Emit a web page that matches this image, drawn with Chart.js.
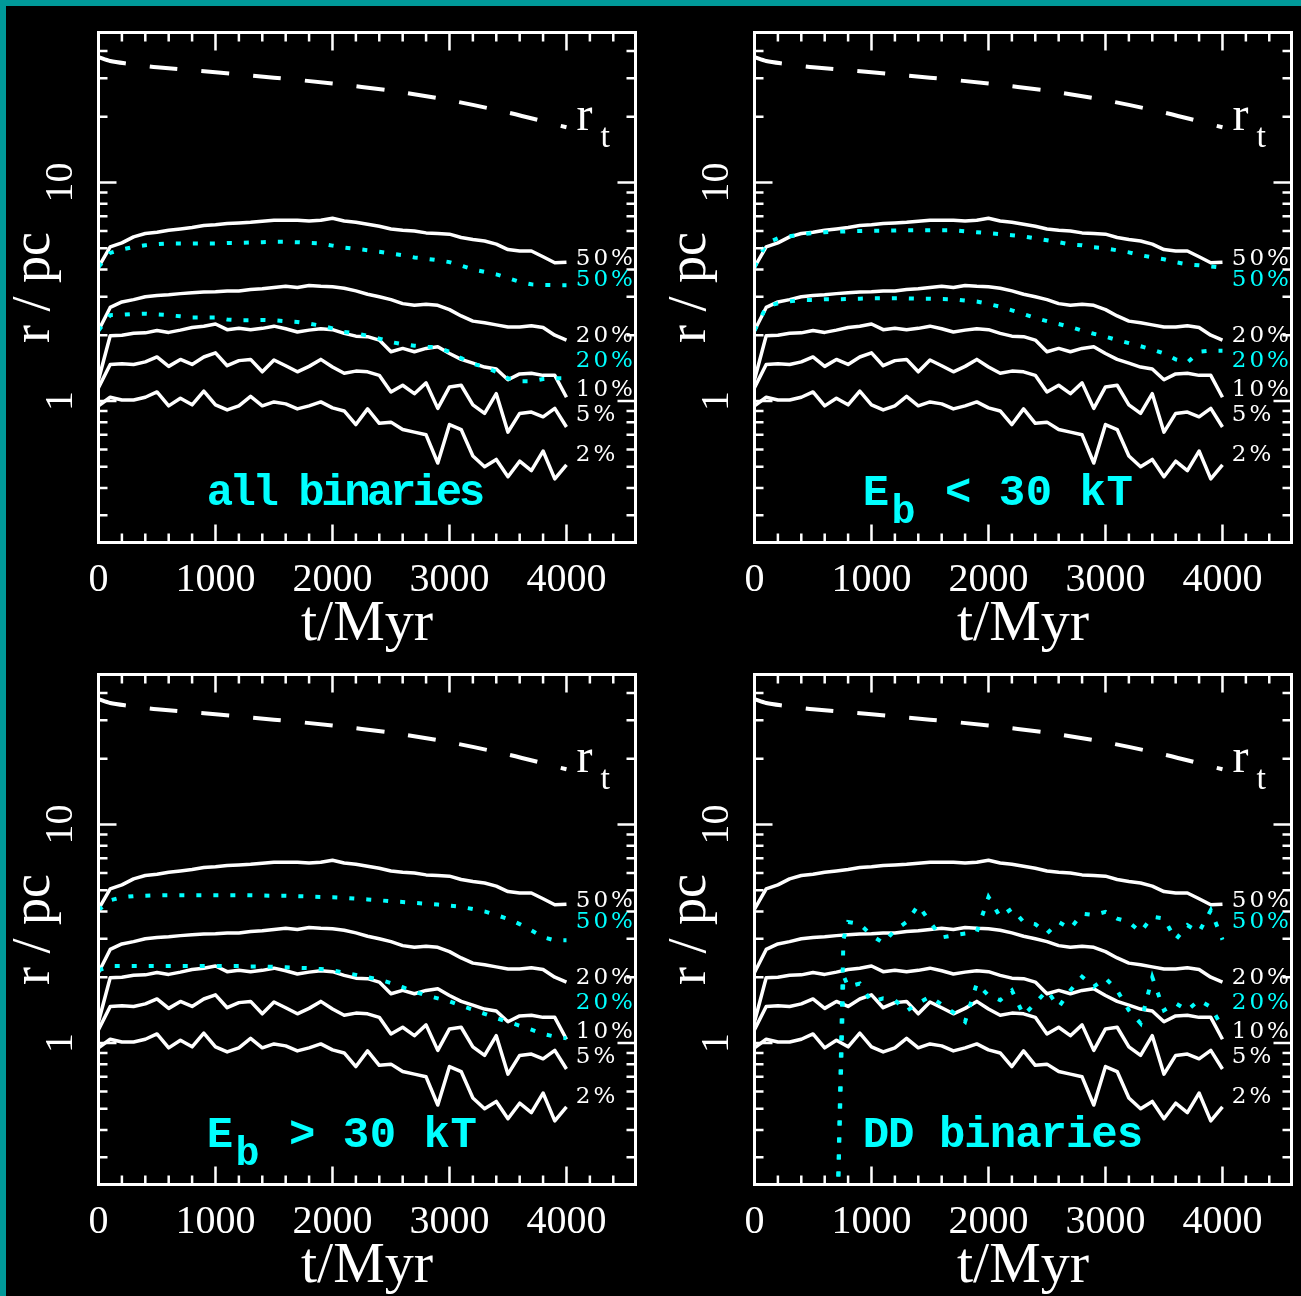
<!DOCTYPE html>
<html>
<head>
<meta charset="utf-8">
<script src="https://cdn.jsdelivr.net/npm/chart.js@4.4.1/dist/chart.umd.min.js"></script>
<style>
html, body { margin: 0; padding: 0; }
body { width: 1301px; height: 1296px; background: #009999; overflow: hidden; position: relative; }
#bg { position: absolute; left: 6px; top: 6px; right: 0; bottom: 0; background: #000; }
canvas { position: absolute; }
</style>
</head>
<body>
<div id="bg"></div>
<canvas id="p_all" width="656" height="660" style="left:0px;top:0px"></canvas>
<canvas id="p_soft" width="656" height="660" style="left:656px;top:0px"></canvas>
<canvas id="p_hard" width="656" height="660" style="left:0px;top:642px"></canvas>
<canvas id="p_dd" width="656" height="660" style="left:656px;top:642px"></canvas>
<script>
// time grid (Myr) for the lagrangian radii
var tGrid = [0, 100, 200, 300, 400, 500, 600, 700, 800, 900, 1000, 1100, 1200, 1300, 1400, 1500, 1600, 1700, 1800, 1900, 2000,
    2100, 2200, 2300, 2400, 2500, 2600, 2700, 2800, 2900, 3000, 3100, 3200, 3300, 3400, 3500, 3600, 3700, 3800, 3900, 4000];

// tidal radius
var tTidal = [0, 100, 250, 500, 1000, 1500, 2000, 2500, 3000, 3500, 4000];
var rTidal = [37.5, 36.0, 35.0, 33.7, 32.0, 30.2, 28.4, 26.3, 23.8, 20.9, 17.9];

// all stars (white, same in every panel)
var r50 = [4.1, 5.07, 5.29, 5.64, 5.84, 5.92, 6.05, 6.13, 6.22, 6.35, 6.40, 6.49, 6.53, 6.58, 6.65, 6.72, 6.72, 6.72, 6.67, 6.72, 6.86,
    6.67, 6.58, 6.44, 6.31, 6.13, 6.05, 6.00, 5.88, 5.84, 5.80, 5.60, 5.48, 5.40, 5.22, 4.93, 4.86, 4.86, 4.57, 4.29, 4.32];
var r20 = [2.1, 2.68, 2.84, 2.91, 3.00, 3.04, 3.06, 3.10, 3.13, 3.15, 3.16, 3.19, 3.19, 3.24, 3.26, 3.31, 3.35, 3.31, 3.38, 3.35, 3.33,
    3.28, 3.19, 3.08, 3.00, 2.91, 2.79, 2.74, 2.77, 2.74, 2.62, 2.45, 2.32, 2.28, 2.23, 2.18, 2.18, 2.21, 2.17, 2.00, 1.90];
var r10 = [1.25, 1.99, 2.0, 2.04, 2.05, 2.10, 2.06, 2.11, 2.17, 2.20, 2.25, 2.12, 2.15, 2.12, 2.15, 2.20, 2.14, 2.07, 2.11, 2.14, 2.12,
    2.04, 1.98, 1.97, 1.90, 1.68, 1.74, 1.68, 1.74, 1.77, 1.65, 1.55, 1.49, 1.43, 1.40, 1.25, 1.33, 1.34, 1.31, 1.31, 1.04];
var r05 = [1.15, 1.47, 1.48, 1.47, 1.51, 1.59, 1.44, 1.55, 1.47, 1.59, 1.66, 1.45, 1.53, 1.55, 1.36, 1.54, 1.45, 1.36, 1.44, 1.55, 1.43,
    1.34, 1.37, 1.36, 1.31, 1.10, 1.18, 1.08, 1.21, 0.925, 1.16, 1.18, 0.96, 0.877, 1.08, 0.72, 0.877, 0.89, 0.846, 0.925, 0.76];
var r02 = [0.95, 1.04, 1.01, 1.01, 1.04, 1.10, 0.95, 1.03, 0.96, 1.11, 0.96, 0.91, 0.95, 1.05, 0.95, 0.99, 0.97, 0.92, 0.95, 0.99, 0.93,
    0.90, 0.78, 0.92, 0.79, 0.80, 0.74, 0.72, 0.70, 0.52, 0.78, 0.74, 0.56, 0.50, 0.54, 0.45, 0.53, 0.48, 0.59, 0.44, 0.51];

// binaries (cyan)
var allB50 = [4.1, 4.76, 4.94, 5.07, 5.16, 5.22, 5.26, 5.26, 5.26, 5.26, 5.26, 5.29, 5.29, 5.31, 5.33, 5.35, 5.35, 5.33, 5.29, 5.26, 5.14,
    5.04, 4.97, 4.90, 4.82, 4.73, 4.65, 4.54, 4.48, 4.41, 4.32, 4.17, 4.00, 3.90, 3.80, 3.65, 3.51, 3.42, 3.40, 3.39, 3.39];
var allB20 = [2.1, 2.47, 2.48, 2.50, 2.51, 2.49, 2.47, 2.44, 2.41, 2.41, 2.41, 2.36, 2.34, 2.34, 2.35, 2.34, 2.32, 2.30, 2.26, 2.21, 2.15,
    2.07, 2.04, 1.99, 1.93, 1.86, 1.82, 1.79, 1.77, 1.76, 1.68, 1.57, 1.48, 1.43, 1.36, 1.27, 1.23, 1.23, 1.26, 1.27, 1.27];
var softB50 = [4.1, 5.27, 5.55, 5.67, 5.80, 5.86, 5.92, 5.95, 5.98, 6.0, 6.02, 6.02, 6.03, 6.05, 6.05, 6.05, 6.05, 6.05, 5.98, 5.92, 5.86,
    5.80, 5.74, 5.67, 5.55, 5.44, 5.33, 5.21, 5.16, 5.05, 5.0, 4.89, 4.79, 4.65, 4.54, 4.45, 4.32, 4.22, 4.18, 4.13, 4.08];
var softB20 = [2.1, 2.7, 2.8, 2.86, 2.9, 2.9, 2.92, 2.92, 2.93, 2.94, 2.95, 2.95, 2.95, 2.95, 2.94, 2.94, 2.93, 2.92, 2.88, 2.85, 2.78,
    2.7, 2.6, 2.5, 2.4, 2.32, 2.25, 2.18, 2.1, 2.03, 1.97, 1.9, 1.84, 1.78, 1.72, 1.65, 1.55, 1.5, 1.68, 1.7, 1.7];
var hardB50 = [4.05, 4.5, 4.65, 4.7, 4.72, 4.74, 4.75, 4.75, 4.75, 4.75, 4.75, 4.75, 4.75, 4.74, 4.73, 4.72, 4.72, 4.7, 4.68, 4.66, 4.65,
    4.62, 4.58, 4.54, 4.5, 4.45, 4.42, 4.38, 4.34, 4.3, 4.25, 4.2, 4.1, 4.0, 3.85, 3.7, 3.5, 3.28, 3.05, 2.95, 2.95];
var hardB20 = [2.15, 2.25, 2.25, 2.25, 2.25, 2.25, 2.25, 2.25, 2.25, 2.25, 2.25, 2.25, 2.25, 2.24, 2.24, 2.23, 2.22, 2.21, 2.2, 2.18, 2.15,
    2.1, 2.05, 2.0, 1.95, 1.88, 1.8, 1.72, 1.65, 1.6, 1.55, 1.48, 1.42, 1.36, 1.3, 1.25, 1.2, 1.15, 1.1, 1.07, 1.05];

// DD binaries only exist from ~700 Myr (first value is below the axis)
var ddTime = [700, 760, 800, 900, 1000, 1100, 1200, 1300, 1400, 1500, 1600, 1700, 1800, 1900, 2000, 2100, 2200, 2300, 2400,
    2500, 2600, 2700, 2800, 2900, 3000, 3100, 3200, 3300, 3400, 3500, 3600, 3700, 3800, 3900, 4000];
var dd50 = [0.1, 2.97, 3.58, 3.5, 3.11, 2.87, 3.28, 3.58, 4.27, 3.58, 3.04, 3.11, 3.17, 3.22, 4.66, 3.78, 4.12, 3.58, 3.5,
    3.17, 3.58, 3.34, 3.91, 3.85, 3.98, 3.71, 3.58, 3.22, 3.78, 3.71, 2.97, 3.46, 3.22, 4.05, 2.97];
var dd20 = [0.1, 2.04, 1.81, 1.87, 1.54, 1.60, 1.57, 1.40, 1.52, 1.63, 1.50, 1.38, 1.25, 1.87, 1.65, 1.57, 1.74, 1.34, 1.52,
    1.74, 1.46, 1.74, 2.01, 1.81, 1.98, 1.74, 1.41, 1.23, 2.0, 1.41, 1.52, 1.41, 1.57, 1.46, 1.18];

// axis ticks
var xLabelTicks = [0, 1000, 2000, 3000, 4000];
var xMinorTicks = [0, 200, 400, 600, 800, 1000, 1200, 1400, 1600, 1800, 2000, 2200, 2400, 2600, 2800, 3000, 3200, 3400, 3600, 3800, 4000, 4200, 4400];
var yMinorTicks = [0.3, 0.4, 0.5, 0.6, 0.7, 0.8, 0.9, 1, 2, 3, 4, 5, 6, 7, 8, 9, 10, 20, 30, 40];
var yLabelTicks = [1, 10];

// curve labels at the right end: [text, r, colour]
var curveLabels = [
    ['50%', 4.48, '#ffffff'],
    ['50%', 3.59, '#00ffff'],
    ['20%', 1.99, '#ffffff'],
    ['20%', 1.53, '#00ffff'],
    ['10%', 1.125, '#ffffff'],
    ['5%', 0.86, '#ffffff'],
    ['2%', 0.564, '#ffffff']
];

var WHITE = '#ffffff';
var CYAN = '#00ffff';

function pts(xs, ys) {
    return xs.map(function (x, i) { return { x: x, y: ys[i] }; });
}

var framePlugin = {
    id: 'frame',
    afterDraw: function (chart) {
        var ctx = chart.ctx;
        var a = chart.chartArea;
        var xs = chart.scales.x;
        var ys = chart.scales.y;
        var panel = chart.options.plugins.frame;

        ctx.save();
        ctx.strokeStyle = WHITE;
        ctx.lineWidth = 3;
        ctx.strokeRect(a.left, a.top, a.right - a.left, a.bottom - a.top);

        // inward ticks on all four sides
        ctx.lineWidth = 2.5;
        ctx.beginPath();
        xMinorTicks.forEach(function (v) {
            var px = xs.getPixelForValue(v);
            var len = v % 1000 === 0 ? 18 : 9;
            ctx.moveTo(px, a.bottom); ctx.lineTo(px, a.bottom - len);
            ctx.moveTo(px, a.top); ctx.lineTo(px, a.top + len);
        });
        yMinorTicks.forEach(function (v) {
            var py = ys.getPixelForValue(v);
            var len = yLabelTicks.indexOf(v) >= 0 ? 18 : 9;
            ctx.moveTo(a.left, py); ctx.lineTo(a.left + len, py);
            ctx.moveTo(a.right, py); ctx.lineTo(a.right - len, py);
        });
        ctx.stroke();

        // rotated y tick labels
        ctx.fillStyle = WHITE;
        ctx.font = '40px "Liberation Serif"';
        ctx.textAlign = 'center';
        ctx.textBaseline = 'alphabetic';
        yLabelTicks.forEach(function (v) {
            ctx.save();
            ctx.translate(a.left - 26.5, ys.getPixelForValue(v));
            ctx.rotate(-Math.PI / 2);
            ctx.fillText(String(v), 0, 0);
            ctx.restore();
        });

        // percentage labels
        ctx.textAlign = 'left';
        ctx.textBaseline = 'middle';
        ctx.font = '23px "DejaVu Serif"';
        ctx.letterSpacing = '3px';
        curveLabels.forEach(function (l) {
            ctx.fillStyle = l[2];
            ctx.fillText(l[0], xs.getPixelForValue(4080), ys.getPixelForValue(l[1]));
        });
        ctx.letterSpacing = '0px';

        // r_t
        ctx.textBaseline = 'alphabetic';
        ctx.fillStyle = WHITE;
        ctx.font = '48px "Liberation Serif"';
        ctx.fillText('r', xs.getPixelForValue(4085), ys.getPixelForValue(17.4));
        ctx.font = '34px "Liberation Serif"';
        ctx.fillText('t', xs.getPixelForValue(4290), ys.getPixelForValue(14.5));

        // panel name
        ctx.fillStyle = CYAN;
        ctx.font = 'bold 44px "Liberation Mono"';
        ctx.letterSpacing = panel.spacing;
        var x0 = xs.getPixelForValue(925);
        var y0 = ys.getPixelForValue(0.333);
        ctx.fillText(panel.name, x0, y0);
        if (panel.sub) {
            var w = ctx.measureText(panel.name).width;
            ctx.font = 'bold 40px "Liberation Mono"';
            ctx.fillText(panel.sub, x0 + w + 2, y0 + 18);
            var w2 = ctx.measureText(panel.sub).width;
            ctx.font = 'bold 44px "Liberation Mono"';
            ctx.fillText(panel.rest, x0 + w + w2 + 4, y0);
        }
        ctx.restore();
    }
};

function whiteLine(ys) {
    return { data: pts(tGrid, ys), borderColor: WHITE, borderWidth: 3.5, pointRadius: 0, tension: 0, borderJoinStyle: 'round' };
}

function cyanLine(xs, ys) {
    return { data: pts(xs, ys), borderColor: CYAN, borderWidth: 4, borderDash: [5, 12], pointRadius: 0, tension: 0 };
}

function makePanel(id, time, b50, b20, name) {
    return new Chart(document.getElementById(id), {
        type: 'line',
        data: {
            datasets: [
                cyanLine(time, b50),
                cyanLine(time, b20),
                { data: pts(tTidal, rTidal), borderColor: WHITE, borderWidth: 4, borderDash: [28, 24], pointRadius: 0, tension: 0.3 },
                whiteLine(r50),
                whiteLine(r20),
                whiteLine(r10),
                whiteLine(r05),
                whiteLine(r02)
            ]
        },
        options: {
            responsive: false,
            animation: false,
            devicePixelRatio: 1,
            layout: { padding: { left: 0, top: 32.5, right: 20.5, bottom: 0 } },
            plugins: { legend: { display: false }, tooltip: { enabled: false }, frame: name },
            scales: {
                x: {
                    type: 'linear', min: 0, max: 4590,
                    grid: { display: false, drawTicks: false },
                    border: { display: false },
                    afterBuildTicks: function (s) { s.ticks = xLabelTicks.map(function (v) { return { value: v }; }); },
                    afterFit: function (s) { s.height = 117.5; },
                    ticks: {
                        color: WHITE, padding: 13.5, maxRotation: 0, autoSkip: false,
                        font: { family: 'Liberation Serif', size: 40 },
                        callback: function (v) { return String(v); }
                    },
                    title: { display: true, text: 't/Myr', color: WHITE, font: { family: 'Liberation Serif', size: 58 }, padding: { top: 0, bottom: 0 } }
                },
                y: {
                    type: 'logarithmic', min: 0.225, max: 48.6,
                    grid: { display: false, drawTicks: false },
                    border: { display: false },
                    ticks: { display: false },
                    afterFit: function (s) { s.width = 98.5; },
                    title: { display: true, text: 'r / pc', color: WHITE, font: { family: 'Liberation Serif', size: 54 }, padding: { top: 2, bottom: 0 } }
                }
            }
        },
        plugins: [framePlugin]
    });
}

makePanel('p_all', tGrid, allB50, allB20, { name: 'all binaries', spacing: '-3.5px' });
makePanel('p_soft', tGrid, softB50, softB20, { name: 'E', sub: 'b', rest: ' < 30 kT', spacing: '0.5px' });
makePanel('p_hard', tGrid, hardB50, hardB20, { name: 'E', sub: 'b', rest: ' > 30 kT', spacing: '0.5px' });
makePanel('p_dd', ddTime, dd50, dd20, { name: 'DD binaries', spacing: '-1px' });
</script>
</body>
</html>
